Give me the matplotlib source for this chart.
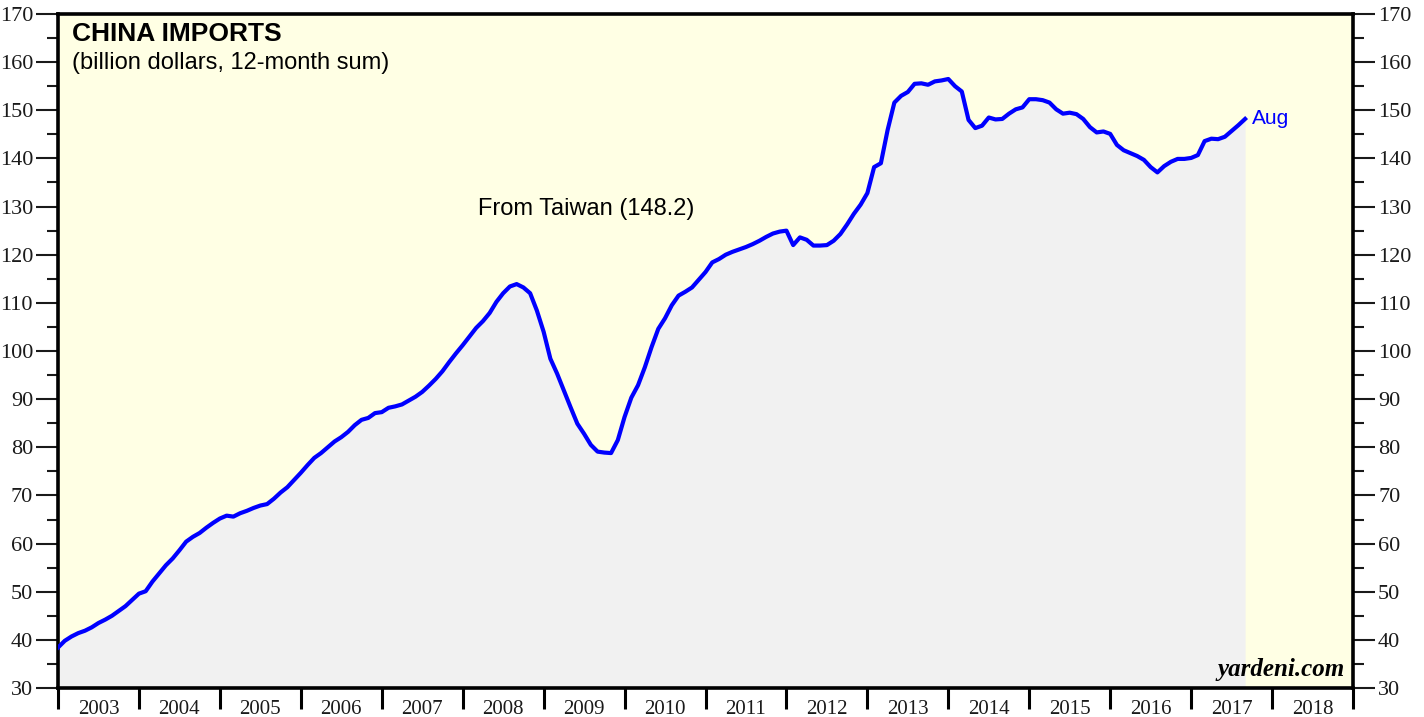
import numpy as np
import matplotlib
matplotlib.use("Agg")
import matplotlib.pyplot as plt
from matplotlib.ticker import MultipleLocator, FixedLocator, NullFormatter

# 12-month sum of China imports from Taiwan, billion dollars (month-end values)
dec2002 = [38.4]
y2003 = [39.8, 40.7, 41.4, 41.9, 42.6, 43.5, 44.2, 45.0, 46.0, 47.0, 48.3, 49.6]
y2004 = [50.1, 52.1, 53.8, 55.5, 56.9, 58.6, 60.4, 61.4, 62.2, 63.3, 64.3, 65.2]
y2005 = [65.8, 65.6, 66.3, 66.8, 67.4, 67.9, 68.2, 69.3, 70.6, 71.7, 73.2, 74.7]
y2006 = [76.3, 77.8, 78.8, 80.0, 81.2, 82.1, 83.2, 84.6, 85.7, 86.1, 87.1, 87.3]
y2007 = [88.2, 88.5, 88.9, 89.7, 90.5, 91.5, 92.8, 94.2, 95.8, 97.7, 99.5, 101.2]
y2008 = [103.0, 104.8, 106.2, 107.9, 110.2, 112.0, 113.4, 113.9, 113.2, 112.0, 108.4, 104.0]
y2009 = [98.4, 95.3, 91.8, 88.3, 84.9, 82.8, 80.5, 79.1, 78.9, 78.8, 81.5, 86.3]
y2010 = [90.3, 92.9, 96.6, 100.8, 104.6, 106.8, 109.5, 111.5, 112.3, 113.2, 114.8, 116.4]
y2011 = [118.4, 119.1, 120.0, 120.6, 121.1, 121.6, 122.2, 122.9, 123.7, 124.4, 124.8, 125.0]
y2012 = [122.0, 123.6, 123.1, 121.9, 121.9, 122.0, 122.9, 124.3, 126.3, 128.5, 130.4, 132.8]
y2013 = [138.2, 139.0, 145.9, 151.6, 153.0, 153.8, 155.5, 155.6, 155.3, 156.0, 156.2, 156.5]
y2014 = [155.0, 153.9, 148.0, 146.3, 146.8, 148.5, 148.1, 148.2, 149.3, 150.2, 150.6, 152.3]
y2015 = [152.3, 152.1, 151.6, 150.2, 149.3, 149.5, 149.2, 148.2, 146.5, 145.4, 145.6, 145.1]
y2016 = [142.8, 141.7, 141.1, 140.5, 139.7, 138.2, 137.1, 138.4, 139.3, 139.9, 139.9, 140.1]
y2017 = [140.7, 143.6, 144.1, 144.0, 144.5, 145.7, 146.9, 148.2]

year_labels = [str(y) for y in range(2003, 2019)]
y_ticks = list(range(30, 171, 10))

values = np.array(dec2002 + y2003 + y2004 + y2005 + y2006 + y2007 + y2008 + y2009
                  + y2010 + y2011 + y2012 + y2013 + y2014 + y2015 + y2016 + y2017)
t = 2003 + np.arange(len(values)) / 12.0

fig = plt.figure(figsize=(14.24, 7.17), dpi=100)
ax = fig.add_axes([58/1424, 1 - 688/717, (1353 - 58)/1424, (688 - 14)/717])
ax.set_facecolor('#FFFFE4')

ax.fill_between(t, 30, values, color='#F1F1F1', lw=0, zorder=1)
ax.plot(t, values, color='#0000FF', lw=3.0, zorder=3, solid_joinstyle='round')

ax.set_xlim(2003, 2019)
ax.set_ylim(30, 170)

for s in ax.spines.values():
    s.set_linewidth(2.6)
    s.set_color('black')

serif = 'Liberation Serif'
ax.yaxis.set_major_locator(FixedLocator(y_ticks))
ax.yaxis.set_minor_locator(MultipleLocator(5))
ax.tick_params(axis='y', which='major', direction='out', length=16, width=1.5,
               left=True, right=True, labelleft=True, labelright=True,
               labelsize=16, pad=2, colors='#1a1a1a')
ax.tick_params(axis='y', which='minor', direction='out', length=8, width=1.5,
               left=True, right=True, colors='#1a1a1a')
for lab in ax.get_yticklabels():
    lab.set_fontfamily(serif)

ax.xaxis.set_major_locator(FixedLocator(np.arange(2003, 2020)))
ax.xaxis.set_major_formatter(NullFormatter())
ax.xaxis.set_minor_locator(FixedLocator(np.arange(2003, 2019) + 0.5))
ax.set_xticklabels(year_labels, minor=True)
ax.tick_params(axis='x', which='major', direction='out', length=15, width=2.2)
ax.tick_params(axis='x', which='minor', length=0, labelsize=15, pad=9,
               colors='#1a1a1a')
for lab in ax.get_xticklabels(minor=True):
    lab.set_fontfamily(serif)

sans = 'Liberation Sans'
ax.text(0.011, 0.988, 'CHINA IMPORTS', transform=ax.transAxes, fontsize=19,
        fontweight='bold', family=sans, va='top', ha='left')
ax.text(0.011, 0.944, '(billion dollars, 12-month sum)', transform=ax.transAxes,
        fontsize=17, family=sans, va='top', ha='left')
ax.text(2009.53, 129.5, 'From Taiwan (148.2)', fontsize=17, family=sans,
        ha='center', va='center')
ax.annotate('Aug', xy=(t[-1], values[-1]), xytext=(5, 0), textcoords='offset points',
            color='#0000FF', fontsize=15, family=sans, va='center', ha='left')
ax.text(0.9935, 0.01, 'yardeni.com', transform=ax.transAxes, fontsize=18,
        family=serif, fontweight='bold', style='italic', ha='right', va='bottom')

fig.savefig('out.png', dpi=100)
